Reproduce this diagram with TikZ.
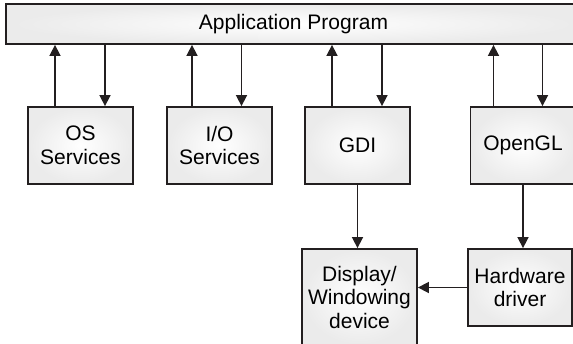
\documentclass[tikz,border=0pt]{standalone}
\usepackage{fontspec}
\setmainfont{Liberation Sans}
\usepackage{xcolor}
\usetikzlibrary{arrows.meta,calc,positioning}
\definecolor{edge}{HTML}{231F20}

\begin{document}
\begin{tikzpicture}[x=1pt,y=-1pt,>={Triangle[length=11pt,width=11pt]},
    blk/.style={draw=edge,line width=1.8pt,shading=radial,inner color=white,
      outer color=black!8,align=center,inner sep=0pt,
      font=\fontsize{21}{23.5}\selectfont},
    box/.style={blk,minimum width=105pt,minimum height=77pt},
    link/.style={->,draw=edge,line width=1.6pt}]
  \clip (0,0) rectangle (573,343);
  \node[blk,minimum width=575pt,minimum height=40pt] (app) at (293.5,24) {Application Program};
  \node[box] (os)  at (80.5,145.5)  {OS\\Services};
  \node[box] (io)  at (219.5,145.5) {I/O\\Services};
  \node[box] (gdi) at (357.5,145.5) {GDI};
  \node[box] (ogl) at (523,145.5)   {OpenGL};
  \node[box,minimum width=115pt,minimum height=96pt] (disp) at (359.5,297) {Display/\\Windowing\\device};
  \node[box,minimum width=104pt] (hw) at (520,287.5) {Hardware\\driver};
  % calls up to the program and back down
  \foreach \b/\u/\d in {os/-25.5/24.5,io/-27.5/22,gdi/-25.5/24.5,ogl/-29.5/19.5}{
    \draw[link] ([xshift=\u pt]\b.north) -- ([xshift=\u pt]\b.north |- app.south);
    \draw[link] ([xshift=\d pt]\b.north |- app.south) -- ([xshift=\d pt]\b.north);
  }
  \draw[link] (gdi) -- (gdi |- disp.north);
  \draw[link] (ogl) -- (ogl |- hw.north);
  \draw[link] (hw.west) -- (hw.west -| disp.east);
\end{tikzpicture}
\end{document}
